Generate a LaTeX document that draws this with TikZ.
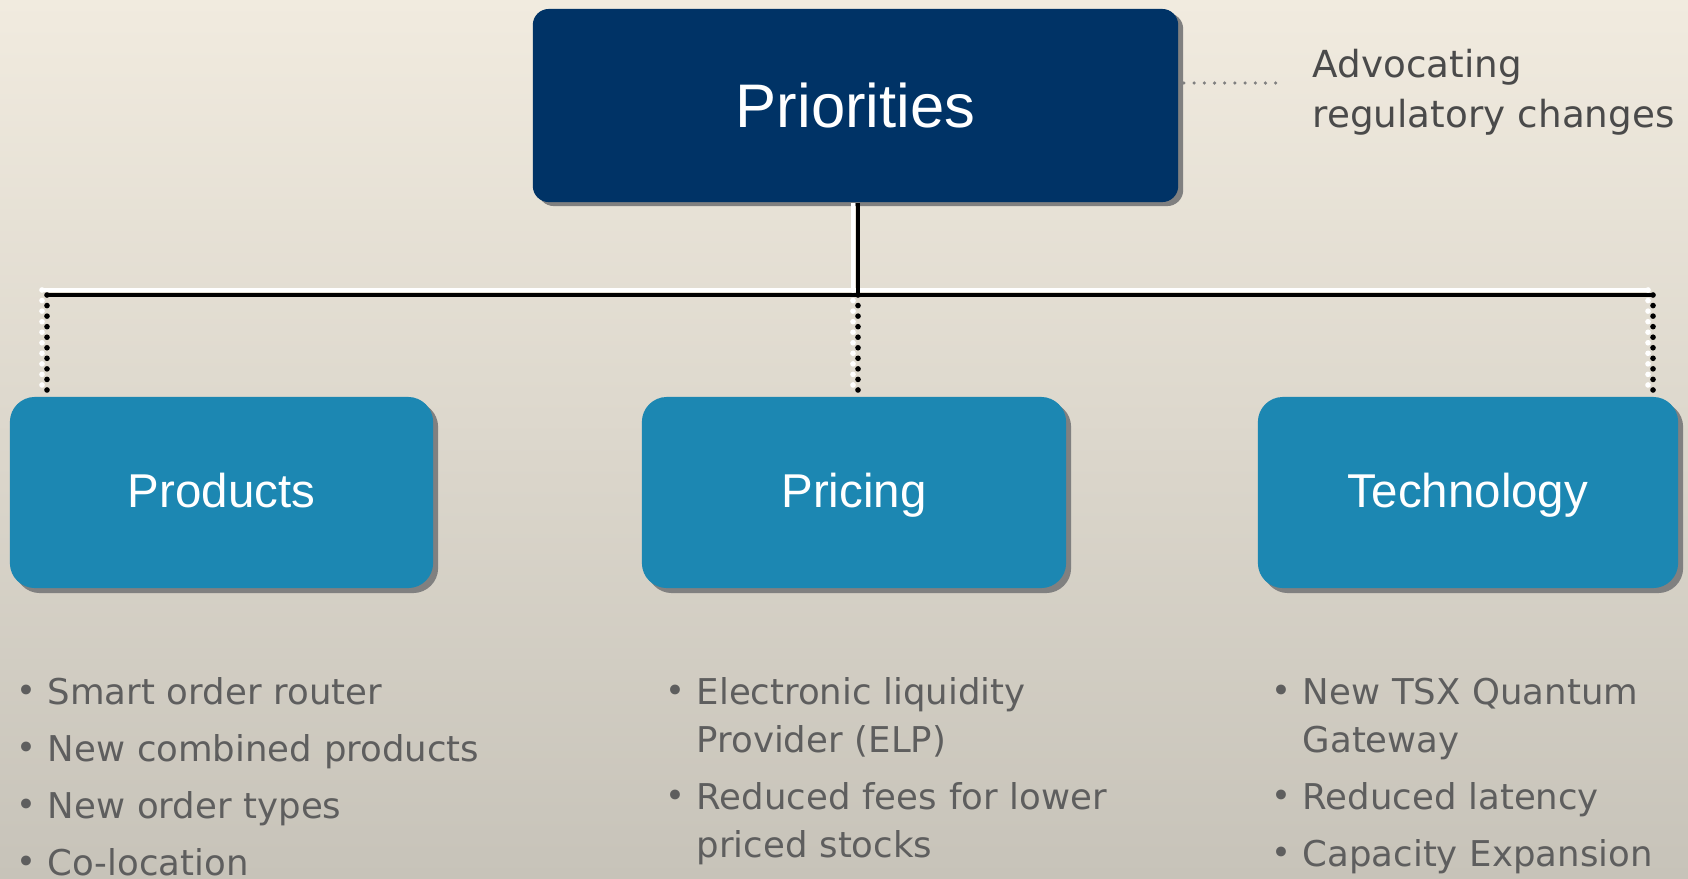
\documentclass[tikz,border=0pt]{standalone}
\usepackage{graphicx}
\usepackage{fontspec}
\setmainfont{DejaVu Sans}
\newfontfamily\labelfont{Liberation Sans}
\usetikzlibrary{positioning, shadows}
\definecolor{bgtop}{HTML}{F1EBDF}
\definecolor{bgbottom}{HTML}{C7C3B9}
\definecolor{navy}{HTML}{003366}
\definecolor{branchblue}{HTML}{1C87B2}
\definecolor{shadowgray}{HTML}{808080}
\definecolor{notegray}{HTML}{5E5E5E}
\definecolor{advgray}{HTML}{4A4A4A}

% bullet and hanging indent for the lists
\newcommand{\bul}{\makebox[0.29cm][l]{\hspace{-0.6pt}\raisebox{0.1ex}{\scalebox{0.95}{•}}}}
\newcommand{\cont}{\hspace*{0.29cm}}

\begin{document}
\begin{tikzpicture}[
  x=0.01cm, y=-0.01cm,
  head/.style={rounded corners=0.16cm, fill=navy, minimum width=6.45cm,
               minimum height=1.93cm, text=white,
               font=\labelfont\fontsize{17.5}{21}\selectfont,
               drop shadow={shadow xshift=0.05cm, shadow yshift=-0.04cm,
                            fill=shadowgray, opacity=1}},
  branch/.style={rounded corners=0.25cm, fill=branchblue, minimum width=4.23cm,
                 minimum height=1.91cm, text=white, text height=0.86em,
                 text depth=0pt, font=\labelfont\fontsize{13.5}{16}\selectfont,
                 drop shadow={shadow xshift=0.05cm, shadow yshift=-0.05cm,
                              fill=shadowgray, opacity=1}},
  bus/.style={line width=1.3pt},
  pins/.style={line width=1.6pt, line cap=round, dash pattern=on 0pt off 3pt},
  advlink/.style={shadowgray, line width=1pt, line cap=round,
                  dash pattern=on 0pt off 2.9pt},
  notes/.style={anchor=base west, text width=5cm, align=left, inner sep=0pt,
                text=notegray, font=\fontsize{10.1}{13.65}\selectfont}
]
  % background
  \fill[top color=bgtop, bottom color=bgbottom] (0,0) rectangle (1688,878);
  \useasboundingbox (0,0) rectangle (1688,878);

  \node[head] (prio) at (855.5,105.5) {Priorities};

  \node[branch] (products) at (221.5,492.5) {Products};
  \node[branch, minimum width=4.24cm] (pricing) at (854,492.5) {Pricing};
  \node[branch, minimum width=4.20cm] (tech) at (1468,492.5) {Technology};

  \coordinate (busL) at (47,295);
  \coordinate (busR) at (1653,295);
  \coordinate (busM) at ([xshift=0.025cm]prio.south |- busL);

  % white edge first, black line on top
  \foreach \col/\dx/\dy in {white/-5/-5, black/0/0} {
    \draw[bus, \col] ([shift={(\dx,0)}]busM |- prio.south) -- ([shift={(\dx,\dy)}]busM);
    \draw[bus, \col] ([shift={(\dx,\dy)}]busL) -- ([shift={(\dx,\dy)}]busR);
    \draw[pins, \col] ([shift={(\dx,\dy)}]busL) -- ([shift={(\dx,\dy)}]busL |- products.north);
    \draw[pins, \col] ([shift={(\dx,\dy)}]busM) -- ([shift={(\dx,\dy)}]busM |- pricing.north);
    \draw[pins, \col] ([shift={(\dx,\dy)}]busR) -- ([shift={(\dx,\dy)}]busR |- tech.north);
  }

  \node[notes, text=advgray, font=\fontsize{10.6}{14.5}\selectfont] (adv) at (1312,77)
    {Advocating\\regulatory changes};
  \coordinate (advend) at (1280,83);
  \path (prio.east |- advend) ++(5,0) coordinate (advstart);
  \draw[advlink] (advstart) -- (advend);

  \node[notes] (prodlist) at (18,704)
    {\bul Smart order router\\[2.6pt]
     \bul New combined products\\[2.6pt]
     \bul New order types\\[2.6pt]
     \bul Co-location};
  \node[notes] (pricelist) at (667,704)
    {\bul Electronic liquidity\\
     \cont Provider (ELP)\\[2.6pt]
     \bul Reduced fees for lower\\
     \cont priced stocks};
  \node[notes] (techlist) at (1273,704)
    {\bul New TSX Quantum\\
     \cont Gateway\\[2.6pt]
     \bul Reduced latency\\[2.6pt]
     \bul Capacity Expansion};
\end{tikzpicture}
\end{document}
